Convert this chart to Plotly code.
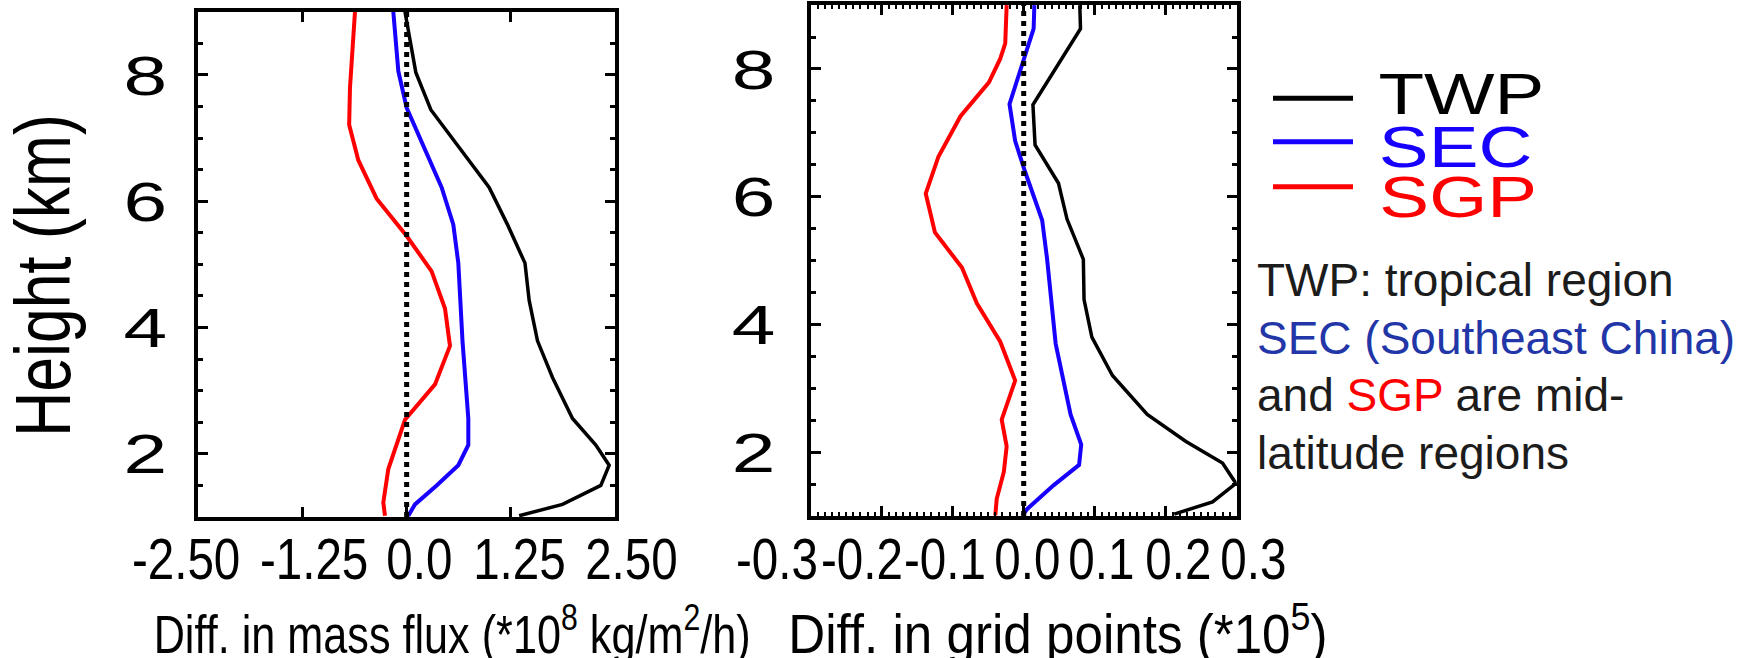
import json
import plotly.graph_objects as go

W, H = 1759, 658

# ---------------- profile data (height in km, difference values) ----------------
# Panel 1: difference in mass flux (*10^8 kg/m^2/h)
flux_twp_h = [9.0, 8.49, 8.04, 7.45, 6.22, 5.63, 5.02, 4.43, 3.79, 3.21, 2.56, 2.14, 1.82, 1.50, 1.20, 1.02]
flux_twp = [-0.02, 0.05, 0.11, 0.29, 0.99, 1.21, 1.42, 1.47, 1.57, 1.75, 1.99, 2.27, 2.43, 2.33, 1.87, 1.35]

flux_sec_h = [9.0, 8.06, 7.48, 6.89, 6.22, 5.63, 5.02, 3.79, 2.56, 2.14, 1.82, 1.50, 1.20, 1.02]
flux_sec = [-0.16, -0.10, 0.0, 0.20, 0.42, 0.56, 0.62, 0.67, 0.74, 0.74, 0.62, 0.36, 0.10, 0.02]

flux_sgp_h = [9.0, 7.80, 7.21, 6.65, 6.04, 5.45, 4.89, 4.30, 3.71, 3.10, 2.54, 2.14, 1.76, 1.23, 1.02]
flux_sgp = [-0.62, -0.68, -0.69, -0.58, -0.36, 0.0, 0.30, 0.46, 0.52, 0.34, -0.02, -0.12, -0.22, -0.28, -0.26]

# Panel 2: difference in grid points (*10^5)
grid_twp_h = [9.0, 8.63, 7.44, 6.81, 6.21, 5.65, 5.02, 4.39, 3.80, 3.20, 2.59, 2.17, 1.83, 1.51, 1.22, 1.03]
grid_twp = [0.079, 0.080, 0.013, 0.016, 0.049, 0.061, 0.084, 0.085, 0.096, 0.125, 0.174, 0.228, 0.280, 0.299, 0.266, 0.212]

grid_sec_h = [9.0, 8.63, 7.45, 6.87, 6.39, 5.63, 5.02, 3.70, 2.59, 2.12, 1.80, 1.48, 1.11, 1.01]
grid_sec = [0.015, 0.014, -0.020, -0.012, 0.002, 0.026, 0.033, 0.045, 0.066, 0.081, 0.078, 0.042, 0.005, -0.002]

grid_sgp_h = [9.0, 8.40, 8.16, 7.79, 7.26, 6.63, 6.05, 5.44, 4.89, 4.33, 3.73, 3.12, 2.51, 2.09, 1.69, 1.27, 1.01]
grid_sgp = [-0.024, -0.026, -0.033, -0.049, -0.089, -0.120, -0.138, -0.125, -0.087, -0.066, -0.033, -0.012, -0.031, -0.024, -0.028, -0.038, -0.040]

# axis settings
height_range = [1, 9]
height_ticks = [2, 4, 6, 8]
flux_range = [-2.5, 2.5]
flux_ticks = [-2.5, -1.25, 0.0, 1.25, 2.5]
flux_ticktext = ["-2.50", "-1.25", "0.0", "1.25", "2.50"]
grid_range = [-0.3, 0.3]
grid_ticks = [-0.3, -0.2, -0.1, 0.0, 0.1, 0.2, 0.3]
grid_ticktext = ["-0.3", "-0.2", "-0.1", "0.0", "0.1", "0.2", "0.3"]

regions = ["TWP", "SEC", "SGP"]
colors = {"TWP": "#000000", "SEC": "#1800ff", "SGP": "#ff0000"}
widths = {"TWP": 3.5, "SEC": 4, "SGP": 4}

# tick label horizontal nudges (px), labels are packed side by side
flux_label_shift = [-12, 12, 13, 9, 16]
grid_label_shift = [-34, -20, -8, 4, 7, 13, 17]

SANS = "Liberation Sans, Arial, sans-serif"

# text sizes; each size gets its own horizontal glyph scaling (condensed / extended type)
SIZE_XTICK, SIZE_XTITLE, SIZE_XTITLE2, SIZE_YTITLE, SIZE_YTICK, SIZE_LEGEND, SIZE_NOTE = 58, 54, 55, 78, 56, 57, 46
stretch = {
    f"{SIZE_XTICK}px": 0.82,
    f"{SIZE_XTITLE}px": 0.80,
    f"{SIZE_XTITLE2}px": 0.93,
    f"{SIZE_YTITLE}px": 0.80,
    f"{SIZE_YTICK}px": 1.40,
    f"{SIZE_LEGEND}px": 1.31,
}


def px(x):
    return x / W


def py(y):
    return 1 - y / H


fig = go.Figure()

panels = [
    ("x", "y", {"TWP": (flux_twp, flux_twp_h), "SEC": (flux_sec, flux_sec_h), "SGP": (flux_sgp, flux_sgp_h)}),
    ("x2", "y2", {"TWP": (grid_twp, grid_twp_h), "SEC": (grid_sec, grid_sec_h), "SGP": (grid_sgp, grid_sgp_h)}),
]

for xa, ya, series in panels:
    for name in regions:
        xv, hv = series[name]
        fig.add_trace(go.Scatter(
            x=xv, y=hv, mode="lines", name=name, showlegend=False,
            line=dict(color=colors[name], width=widths[name]),
            xaxis=xa, yaxis=ya, hoverinfo="skip",
        ))
    # zero reference line
    fig.add_trace(go.Scatter(
        x=[0, 0], y=height_range, mode="lines", showlegend=False,
        line=dict(color="black", width=5, dash="5px,5px"),
        xaxis=xa, yaxis=ya, hoverinfo="skip",
    ))

axis_common = dict(
    showline=True, linecolor="black", linewidth=4, mirror="ticks",
    ticks="inside", ticklen=10, tickwidth=3, tickcolor="black",
    showgrid=False, zeroline=False, fixedrange=True,
)

fig.update_layout(
    width=W, height=H,
    margin=dict(l=0, r=0, t=0, b=0),
    paper_bgcolor="white", plot_bgcolor="white",
    xaxis=dict(
        domain=[px(198.3), px(615)], range=flux_range, tickvals=flux_ticks,
        showticklabels=False, anchor="y", **axis_common,
    ),
    yaxis=dict(
        domain=[py(517), py(11.8)], range=height_range, tickvals=height_ticks,
        tickfont=dict(family=SANS, size=SIZE_YTICK, color="black"), ticklabelstandoff=16,
        minor=dict(dtick=0.5, ticks="inside", ticklen=5, tickwidth=3, tickcolor="black"),
        anchor="x", **axis_common,
    ),
    xaxis2=dict(
        domain=[px(810.7), px(1236.7)], range=grid_range, tickvals=grid_ticks,
        showticklabels=False, anchor="y2",
        minor=dict(dtick=0.01, ticks="inside", ticklen=4, tickwidth=2, tickcolor="black"),
        **axis_common,
    ),
    yaxis2=dict(
        domain=[py(516), py(5.1)], range=height_range, tickvals=height_ticks,
        tickfont=dict(family=SANS, size=SIZE_YTICK, color="black"), ticklabelstandoff=20,
        minor=dict(dtick=0.5, ticks="inside", ticklen=5, tickwidth=3, tickcolor="black"),
        anchor="x2", **axis_common,
    ),
)

annotations = []

# x tick labels
for xa, vals, texts, shifts in [("x", flux_ticks, flux_ticktext, flux_label_shift),
                                ("x2", grid_ticks, grid_ticktext, grid_label_shift)]:
    for v, t, s in zip(vals, texts, shifts):
        annotations.append(dict(
            x=v, xref=xa, y=py(558.5), yref="paper", text=t, showarrow=False,
            xanchor="center", yanchor="middle", xshift=s,
            font=dict(family=SANS, size=SIZE_XTICK, color="black"),
        ))

# axis titles
annotations.append(dict(
    x=px(43), y=py(276), xref="paper", yref="paper", text="Height (km)",
    textangle=-90, showarrow=False, xanchor="center", yanchor="middle",
    font=dict(family=SANS, size=SIZE_YTITLE, color="black"),
))
annotations.append(dict(
    x=px(452), y=py(630), xref="paper", yref="paper",
    text="Diff. in mass flux (*10<sup>8</sup> kg/m<sup>2</sup>/h)",
    showarrow=False, xanchor="center", yanchor="middle",
    font=dict(family=SANS, size=SIZE_XTITLE, color="black"),
))
annotations.append(dict(
    x=px(1057.5), y=py(630), xref="paper", yref="paper",
    text="Diff. in grid points (*10<sup>5</sup>)",
    showarrow=False, xanchor="center", yanchor="middle",
    font=dict(family=SANS, size=SIZE_XTITLE2, color="black"),
))

# legend: sample lines and labels
legend_line_y = {"TWP": 98.3, "SEC": 141.7, "SGP": 186.7}
legend_text_y = {"TWP": 94.5, "SEC": 146.5, "SGP": 196.5}
legend_text_x = {"TWP": 1461, "SEC": 1455, "SGP": 1457.5}
shapes = []
for name in regions:
    shapes.append(dict(
        type="line", xref="paper", yref="paper",
        x0=px(1273), x1=px(1353), y0=py(legend_line_y[name]), y1=py(legend_line_y[name]),
        line=dict(color=colors[name], width=5),
    ))
    annotations.append(dict(
        x=px(legend_text_x[name]), y=py(legend_text_y[name]), xref="paper", yref="paper",
        text=name, showarrow=False, xanchor="center", yanchor="middle",
        font=dict(family=SANS, size=SIZE_LEGEND, color=colors[name]),
    ))

# explanatory note
note_lines = [
    "<span style='color:#1c1c1c'>TWP: tropical region</span>",
    "<span style='color:#2236a8'>SEC (Southeast China)</span>",
    "<span style='color:#1c1c1c'>and </span><span style='color:#ff0000'>SGP</span>"
    "<span style='color:#1c1c1c'> are mid-</span>",
    "<span style='color:#1c1c1c'>latitude regions</span>",
]
note_y = [280, 338.3, 395, 453.3]
for t, yy in zip(note_lines, note_y):
    annotations.append(dict(
        x=px(1255), y=py(yy), xref="paper", yref="paper", text=t,
        showarrow=False, xanchor="left", yanchor="middle",
        font=dict(family=SANS, size=SIZE_NOTE, color="#1c1c1c"),
    ))

fig.update_layout(annotations=annotations, shapes=shapes)

# horizontal glyph scaling of selected text, keyed on font size
post = """
var gd = document.getElementById('{plot_id}');
var factors = %s;
function condense() {
  var nodes = gd.querySelectorAll('text');
  for (var i = 0; i < nodes.length; i++) {
    var t = nodes[i];
    var fs = t.style.fontSize;
    if (!(fs in factors)) continue;
    var ol = t.getAttribute('data-ol');
    if (ol === null) {
      t.removeAttribute('textLength');
      ol = t.getComputedTextLength();
      if (!(ol > 0)) continue;
      t.setAttribute('data-ol', ol);
    }
    t.setAttribute('lengthAdjust', 'spacingAndGlyphs');
    t.setAttribute('textLength', parseFloat(ol) * factors[fs]);
  }
}
condense();
gd.on('plotly_afterplot', condense);
""" % json.dumps(stretch)

fig.write_html("out.html", post_script=post)
